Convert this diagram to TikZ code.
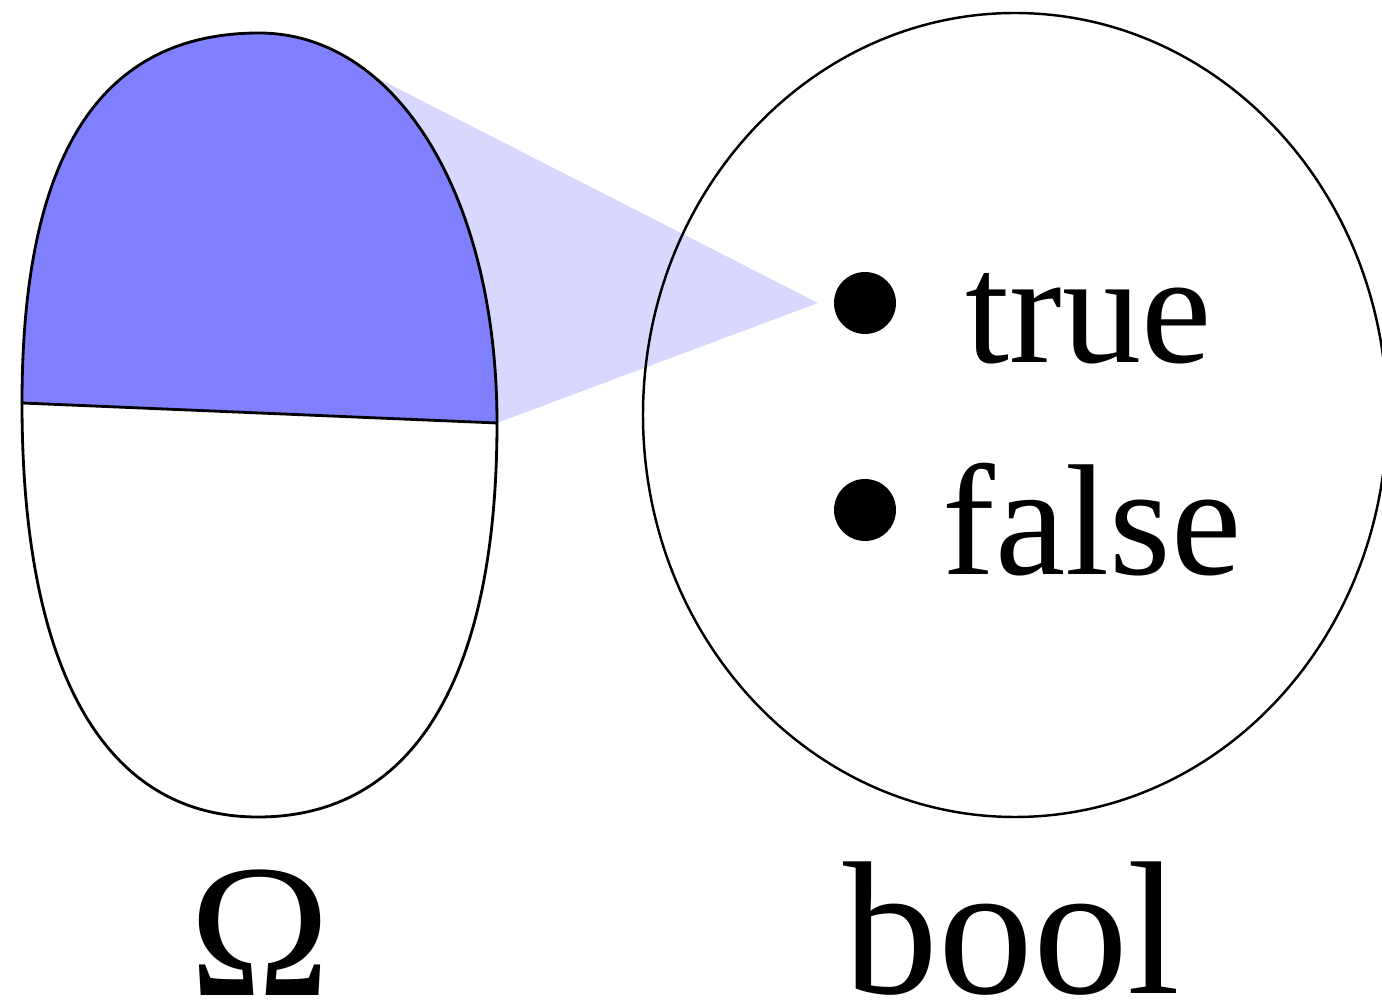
\documentclass[tikz,border=0pt]{standalone}
\usepackage{fontspec}
\setmainfont{Liberation Serif}
\usepackage{tikz}
\usetikzlibrary{positioning,calc}
\definecolor{regioncolor}{RGB}{128, 128, 255}
\definecolor{wedgecolor}{RGB}{216, 216, 255}

\begin{document}
\begin{tikzpicture}[
    % Estilos
    outline/.style={
        draw=black,
        line width=0.8pt
    },
    valuelabel/.style={
        font=\fontsize{45}{50}\selectfont,
        anchor=base west,
        inner sep=0pt
    },
    setlabel/.style={
        font=\fontsize{54}{60}\selectfont,
        anchor=base,
        inner sep=0pt
    },
    dot/.style={
        circle,
        fill=black,
        minimum size=0.62cm,
        inner sep=0pt
    },
]
\useasboundingbox (0,0) rectangle (13.82,-10.05);

% ============================================================================
% Pontos de referencia
% ============================================================================
\coordinate (omegaleft) at (0.22,-4.03);
\coordinate (omegaright) at (4.97,-4.23);
\coordinate (omegatop) at (2.59,-0.33);
\coordinate (omegabottom) at (2.58,-8.17);
\coordinate (wedgestart) at (3.40,-0.59);
\coordinate (wedgetip) at (8.18,-3.03);

% ============================================================================
% Cunha (preimagem de true)
% ============================================================================
\fill[wedgecolor] (wedgestart) -- (wedgetip) -- (omegaright) -- cycle;

% ============================================================================
% Conjunto Omega
% ============================================================================
\fill[regioncolor] (omegaleft)
    .. controls (0.22,-1.55) and (1.00,-0.33) .. (omegatop)
    .. controls (3.97,-0.33) and (4.97,-1.97) .. (omegaright)
    -- cycle;
\fill[white] (omegaright)
    .. controls (4.97,-6.79) and (4.13,-8.17) .. (omegabottom)
    .. controls (1.05,-8.17) and (0.22,-6.72) .. (omegaleft)
    -- cycle;
\draw[outline] (omegaleft)
    .. controls (0.22,-1.55) and (1.00,-0.33) .. (omegatop)
    .. controls (3.97,-0.33) and (4.97,-1.97) .. (omegaright)
    .. controls (4.97,-6.79) and (4.13,-8.17) .. (omegabottom)
    .. controls (1.05,-8.17) and (0.22,-6.72) .. (omegaleft)
    -- cycle;
\draw[outline] (omegaleft) -- (omegaright);

% ============================================================================
% Conjunto bool
% ============================================================================
\draw[outline, line width=0.7pt] (10.15,-4.15) ellipse[x radius=3.72, y radius=4.02];

\node[dot] (dottrue) at (8.65,-3.03) {};
\node[valuelabel] (true) at (9.65,-3.63) {true};
\node[dot] (dotfalse) at (8.65,-5.10) {};
\node[valuelabel] (false) at (9.42,-5.75) {false};

% ============================================================================
% Rotulos
% ============================================================================
\node[setlabel] (omega) at (2.60,-9.96) {Ω};
\node[setlabel] (bool) at (10.12,-9.93) {bool};

\end{tikzpicture}
\end{document}
